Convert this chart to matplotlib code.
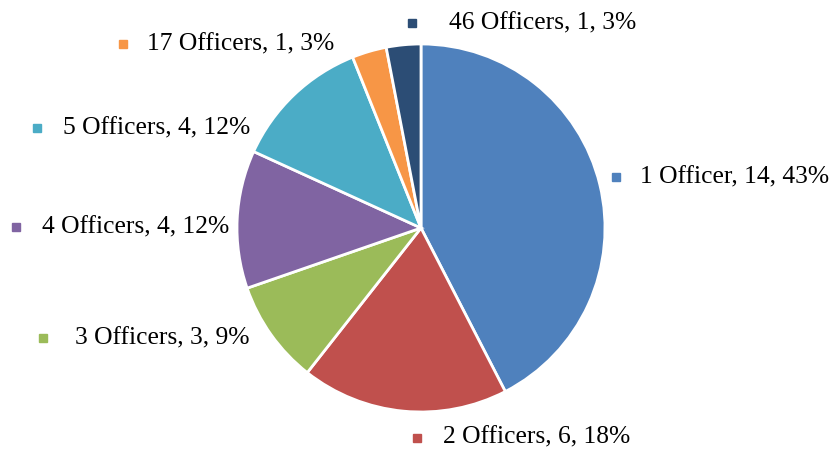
import matplotlib
matplotlib.use("Agg")
from matplotlib import pyplot as plt

# data
labels = ["1 Officer", "2 Officers", "3 Officers", "4 Officers",
          "5 Officers", "17 Officers", "46 Officers"]
counts = [14, 6, 3, 4, 4, 1, 1]
percents = [43, 18, 9, 12, 12, 3, 3]
colors = ["#4F81BD", "#C0504D", "#9BBB59", "#8064A2",
          "#4BACC6", "#F79646", "#2C4D75"]

# label marker positions (data units, pie radius = 1) and text gaps in points
label_pos = [(1.06, 0.277), (-0.022, -1.14), (-2.054, -0.598), (-2.201, 0.005),
             (-2.087, 0.543), (-1.62, 1.0), (-0.049, 1.114)]
text_gap = [17, 19, 23, 19, 19, 17, 27]

plt.rcParams['font.family'] = ['Liberation Serif', 'DejaVu Serif']

fig = plt.figure(figsize=(8.35, 4.51), dpi=100)
ax = fig.add_axes([0, 0, 1, 1])
ax.pie(counts, colors=colors, startangle=90, counterclock=False,
       wedgeprops=dict(edgecolor='white', linewidth=2))
ax.set_xlim(-2.288, 2.25)
ax.set_ylim(-1.212, 1.239)
ax.set_aspect('auto')
ax.axis('off')

for lab, n, p, c, (x, y), g in zip(labels, counts, percents, colors, label_pos, text_gap):
    ax.plot([x], [y], marker='s', markersize=6.3, color=c, linestyle='none')
    ax.annotate("{}, {}, {}%".format(lab, n, p), xy=(x, y), xytext=(g, 0),
                textcoords='offset points', ha='left', va='center',
                fontsize=18.4, color='#000000')

plt.savefig("out.png", dpi=100)
